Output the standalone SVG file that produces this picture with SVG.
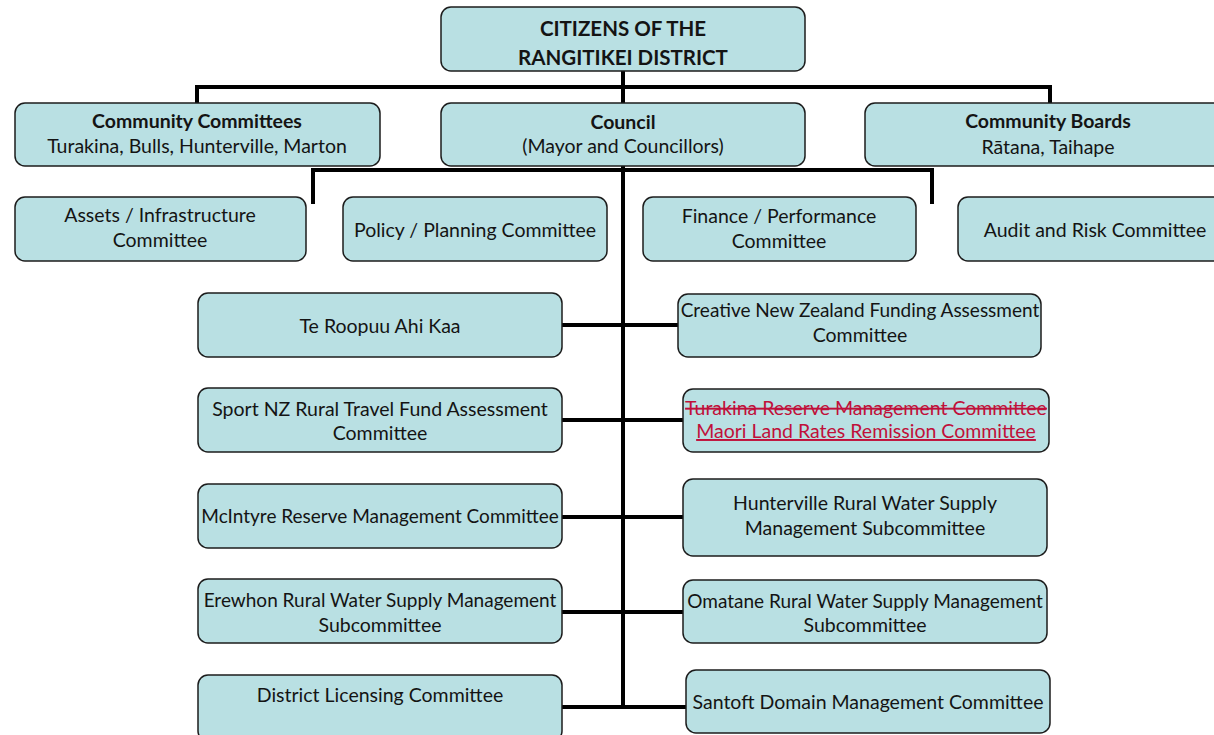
<svg xmlns="http://www.w3.org/2000/svg" width="1214" height="735" viewBox="0 0 1214 735">
  <style>
    .box { fill: #b9e0e3; stroke: #1c1c1c; stroke-width: 1.5; }
    .link { fill: none; stroke: #000; stroke-width: 4; stroke-linecap: butt; stroke-linejoin: miter; }
    text { font-family: Lato, "Open Sans", sans-serif; font-size: 19.5px; fill: #141414; text-anchor: middle; }
    .b { font-weight: bold; }
    .h { font-size: 20.5px; }
    .long { font-size: 19px; }
    .del { fill: #c0103a; text-decoration: line-through; }
    .ins { fill: #c0103a; text-decoration: underline; }
  </style>
  <rect width="1214" height="735" fill="#fff"/>

  <!-- connectors -->
  <g id="connectors">
    <!-- citizens to top tier -->
    <path class="link" d="M623 71 V103 M197 103 V87 H1050 V103"/>
    <!-- council trunk -->
    <path class="link" d="M623 166 V709"/>
    <!-- council to standing committees -->
    <path class="link" d="M313 204 V170 H932 V204"/>
    <!-- branches to sub-committees -->
    <path class="link" d="M562 325 H678"/>
    <path class="link" d="M562 420 H683"/>
    <path class="link" d="M562 517 H683"/>
    <path class="link" d="M562 612 H683"/>
    <path class="link" d="M562 707 H686"/>
  </g>

  <g id="citizens">
    <rect class="box" x="441" y="7" width="364" height="64" rx="10"/>
    <text class="b h" x="623" y="36">CITIZENS OF THE</text>
    <text class="b h" x="623" y="65">RANGITIKEI DISTRICT</text>
  </g>

  <g id="community-committees">
    <rect class="box" x="15" y="103" width="365" height="63" rx="10"/>
    <text class="b" x="197" y="128">Community Committees</text>
    <text x="197" y="153">Turakina, Bulls, Hunterville, Marton</text>
  </g>

  <g id="council">
    <rect class="box" x="441" y="103" width="364" height="63" rx="10"/>
    <text class="b" x="623" y="129">Council</text>
    <text x="623" y="153">(Mayor and Councillors)</text>
  </g>

  <g id="community-boards">
    <rect class="box" x="865" y="103" width="366" height="63" rx="10"/>
    <text class="b" x="1048" y="128">Community Boards</text>
    <text x="1048" y="154">Rātana, Taihape</text>
  </g>

  <g id="assets">
    <rect class="box" x="15" y="197" width="291" height="64" rx="10"/>
    <text x="160" y="222">Assets / Infrastructure</text>
    <text x="160" y="247">Committee</text>
  </g>

  <g id="policy">
    <rect class="box" x="343" y="197" width="264" height="64" rx="10"/>
    <text x="475" y="237">Policy / Planning Committee</text>
  </g>

  <g id="finance">
    <rect class="box" x="643" y="197" width="273" height="64" rx="10"/>
    <text x="779" y="223">Finance / Performance</text>
    <text x="779" y="248">Committee</text>
  </g>

  <g id="audit">
    <rect class="box" x="958" y="197" width="274" height="64" rx="10"/>
    <text x="1095" y="237">Audit and Risk Committee</text>
  </g>

  <g id="te-roopuu">
    <rect class="box" x="198" y="293" width="364" height="64" rx="10"/>
    <text x="380" y="333">Te Roopuu Ahi Kaa</text>
  </g>

  <g id="sport-nz">
    <rect class="box" x="198" y="388" width="364" height="64" rx="10"/>
    <text x="380" y="416">Sport NZ Rural Travel Fund Assessment</text>
    <text x="380" y="440">Committee</text>
  </g>

  <g id="mcintyre">
    <rect class="box" x="198" y="484" width="364" height="64" rx="10"/>
    <text class="long" x="380" y="523">McIntyre Reserve Management Committee</text>
  </g>

  <g id="erewhon">
    <rect class="box" x="198" y="579" width="364" height="64" rx="10"/>
    <text class="long" x="380" y="607">Erewhon Rural Water Supply Management</text>
    <text x="380" y="632">Subcommittee</text>
  </g>

  <g id="district-licensing">
    <rect class="box" x="198" y="675" width="364" height="66" rx="10"/>
    <text x="380" y="702">District Licensing Committee</text>
  </g>

  <g id="creative-nz">
    <rect class="box" x="678" y="294" width="363" height="63" rx="10"/>
    <text class="long" x="860" y="317">Creative New Zealand Funding Assessment</text>
    <text x="860" y="342">Committee</text>
  </g>

  <g id="maori-land-rates">
    <rect class="box" x="683" y="389" width="366" height="63" rx="10"/>
    <text class="del" x="866" y="415">Turakina Reserve Management Committee</text>
    <text class="ins" x="866" y="438">Maori Land Rates Remission Committee</text>
  </g>

  <g id="hunterville">
    <rect class="box" x="683" y="479" width="364" height="77" rx="10"/>
    <text x="865" y="510">Hunterville Rural Water Supply</text>
    <text x="865" y="535">Management Subcommittee</text>
  </g>

  <g id="omatane">
    <rect class="box" x="683" y="580" width="364" height="63" rx="10"/>
    <text class="long" x="865" y="608">Omatane Rural Water Supply Management</text>
    <text x="865" y="632">Subcommittee</text>
  </g>

  <g id="santoft">
    <rect class="box" x="686" y="670" width="364" height="63" rx="10"/>
    <text x="868" y="709">Santoft Domain Management Committee</text>
  </g>
</svg>
